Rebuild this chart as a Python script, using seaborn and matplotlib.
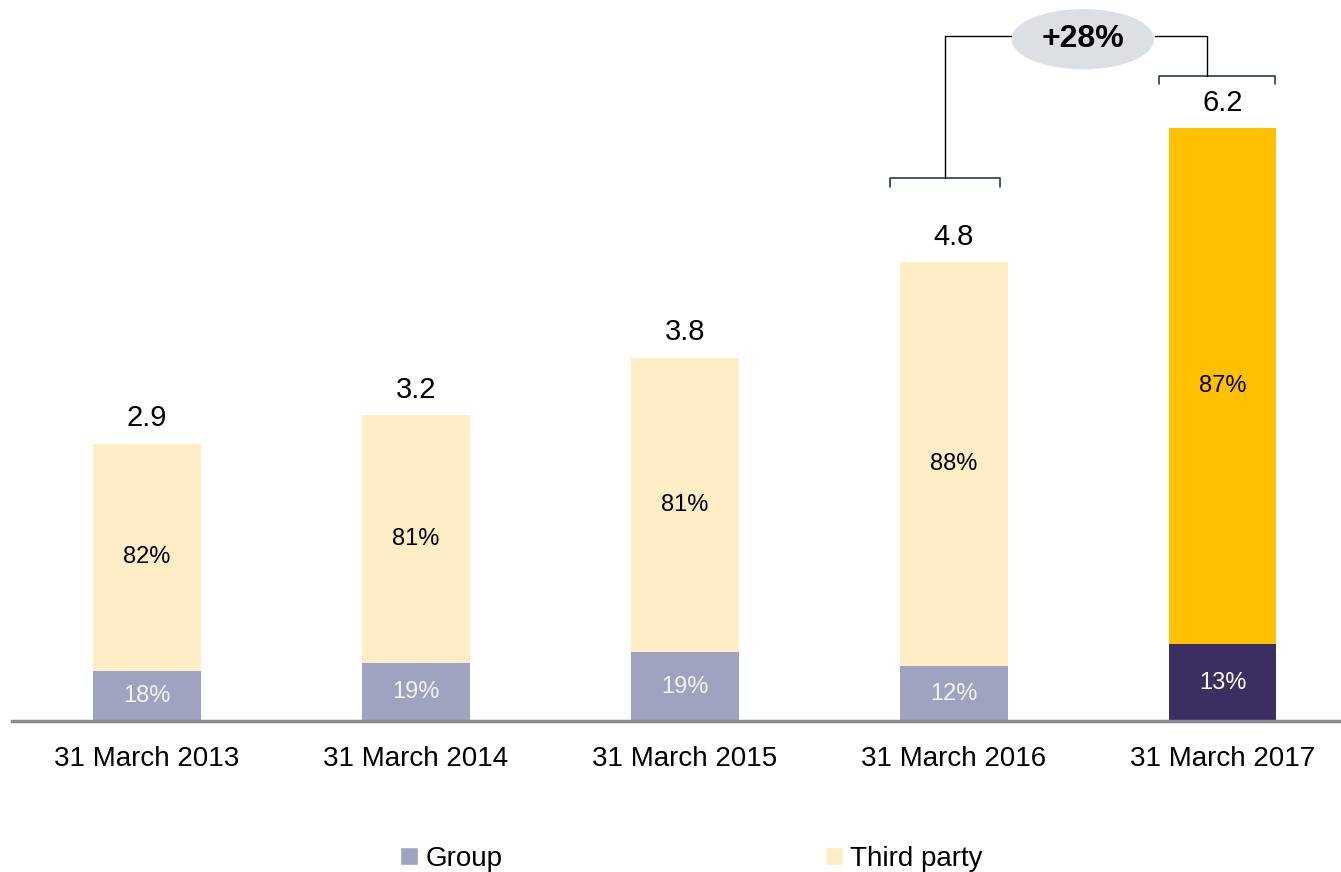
import numpy as np
import pandas as pd
import matplotlib.pyplot as plt
import seaborn as sns
from matplotlib.patches import Ellipse, Patch

OUT_PATH = "out.png"

categories = ["31 March 2013", "31 March 2014", "31 March 2015",
              "31 March 2016", "31 March 2017"]
totals = [2.9, 3.2, 3.8, 4.8, 6.2]
group_pct = [18, 19, 19, 12, 13]
third_pct = [82, 81, 81, 88, 87]
growth_label = "+28%"

GROUP_COLORS = ["#A0A3C0"] * 4 + ["#3B2E63"]
THIRD_COLORS = ["#FEEDC5"] * 4 + ["#FFC000"]


def main():
    sns.set_style("white")
    plt.rcParams["font.family"] = ["Liberation Sans", "DejaVu Sans"]
    plt.rcParams["text.color"] = "black"

    group_vals = [t * p / 100 for t, p in zip(totals, group_pct)]
    df = pd.DataFrame({"date": categories, "total": totals, "group": group_vals})

    fig = plt.figure(figsize=(13.41, 8.72), dpi=100)
    ax = fig.add_axes([0.009, 0.173, 0.991, 0.827])

    # stacked bars: full total in third-party colour, group drawn over the bottom
    sns.barplot(data=df, x="date", y="total", hue="date", palette=THIRD_COLORS,
                legend=False, width=0.4, saturation=1, linewidth=0, ax=ax)
    sns.barplot(data=df, x="date", y="group", hue="date", palette=GROUP_COLORS,
                legend=False, width=0.4, saturation=1, linewidth=0, ax=ax)

    ax.set_ylim(0, 7.54)
    ax.set_xlim(-0.502, 4.44)
    ax.set_xlabel("")
    ax.set_ylabel("")
    ax.set_yticks([])
    for s in ["top", "right", "left"]:
        ax.spines[s].set_visible(False)
    ax.spines["bottom"].set_color("#8C8C8C")
    ax.spines["bottom"].set_linewidth(2.5)
    ax.tick_params(axis="x", length=0, labelsize=20, pad=18, colors="black")

    for i, (t, g, gp, tp) in enumerate(zip(totals, group_vals, group_pct, third_pct)):
        ax.text(i, t + 0.12, f"{t:.1f}", ha="center", va="bottom", fontsize=21)
        ax.text(i, t - (t - g) / 2, f"{tp}%", ha="center", va="center", fontsize=17)
        gcol = "white" if i == 4 else "#F2F2F2"
        ax.text(i, g / 2, f"{gp}%", ha="center", va="center", fontsize=17, color=gcol)

    # growth bracket between last two bars
    lc = "#2B3A55"
    hw = 0.205
    xl = 3 - 0.033
    xr = 4 - 0.03
    y_l = totals[3] + 0.88
    y_r = totals[4] + 0.55
    y_top = 7.16
    ax.plot([xl - hw, xl - hw, xl + hw, xl + hw], [y_l - 0.09, y_l, y_l, y_l - 0.09],
            color=lc, lw=1.2, clip_on=False)
    ax.plot([xr - hw, xr - hw, xr + hw + 0.02, xr + hw + 0.02],
            [y_r - 0.09, y_r, y_r, y_r - 0.09], color=lc, lw=1.2, clip_on=False)
    ax.plot([xl, xl, 3.24], [y_l, y_top, y_top], color="black", lw=1.0, clip_on=False)
    ax.plot([3.75, xr - 0.03, xr - 0.03], [y_top, y_top, y_r], color="black",
            lw=1.0, clip_on=False)
    ell = Ellipse((3.48, 7.13), width=0.53, height=0.63, facecolor="#DCE0E5",
                  edgecolor="none", clip_on=False, zorder=3)
    ax.add_patch(ell)
    ax.text(3.48, 7.13, growth_label, ha="center", va="center", fontsize=23,
            fontweight="bold", zorder=4)

    handles = [Patch(facecolor=GROUP_COLORS[0], label="Group"),
               Patch(facecolor=THIRD_COLORS[0], label="Third party")]
    fig.legend(handles=handles, loc="center", bbox_to_anchor=(0.5155, 0.015),
               ncol=2, frameon=False, fontsize=20, handlelength=0.65,
               handleheight=0.65, handletextpad=0.25, columnspacing=11.6)

    fig.savefig(OUT_PATH, dpi=100)
    plt.close(fig)


if __name__ == "__main__":
    main()
